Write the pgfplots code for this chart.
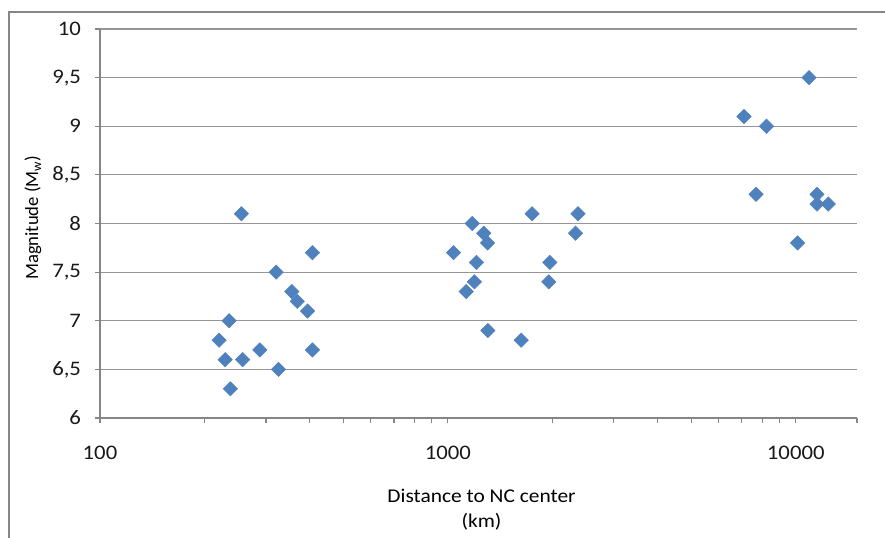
\documentclass[border=0pt]{standalone}
\usepackage{fontspec}
\setmainfont[FakeStretch=1.1]{Carlito}
\newfontfamily\plaincarlito{Carlito}
\usepackage{pgfplots}
\pgfplotsset{compat=1.18}
\definecolor{markblue}{RGB}{79,129,189}
\definecolor{axisgray}{RGB}{134,134,134}
\definecolor{gridgray}{RGB}{150,150,150}

\pgfplotstableread{
dist mag
255 8.1
408 7.7
321 7.5
356 7.3
369 7.2
395 7.1
235 7.0
220 6.8
229 6.6
257 6.6
288 6.7
408 6.7
326 6.5
237 6.3
1175 8.0
1746 8.1
2366 8.1
1268 7.9
1300 7.8
2328 7.9
1038 7.7
1208 7.6
1964 7.6
1192 7.4
1950 7.4
1129 7.3
1303 6.9
1625 6.8
10920 9.5
7100 9.1
8240 9.0
7690 8.3
11510 8.3
11510 8.2
12400 8.2
10120 7.8
}\quakes

\begin{document}
\begin{tikzpicture}[x=0.75pt, y=0.75pt, font=\fontsize{14.6pt}{18.75pt}\selectfont]
\useasboundingbox (-100,-120) rectangle (785,418);
\clip (-100,-120) rectangle (785,418);
% outer chart frame (cut off at right and bottom)
\draw[axisgray, line width=1.1pt] (-91,-200) rectangle (900,406);
\begin{axis}[
    at={(0,0)}, anchor=south west,
    scale only axis,
    width=567.75pt, height=291.75pt,
    xmode=log,
    xmin=100, xmax=15000,
    ymin=6, ymax=10,
    xtick={100,1000,10000},
    xticklabels={100,1000,10000},
    minor xtick={200,300,400,500,600,700,800,900,2000,3000,4000,5000,6000,7000,8000,9000},
    extra x ticks={15000},
    extra x tick labels={},
    ytick={6,6.5,...,10},
    /pgf/number format/.cd, use comma, fixed, assume math mode=true,
    /pgfplots/.cd,
    tick label style={font=\fontsize{15.5pt}{18.75pt}\selectfont, color=black!90},
    xticklabel style={yshift=-14pt},
    yticklabel style={xshift=-7pt},
    axis x line*=bottom,
    axis y line*=left,
    axis line style={axisgray, line width=0.8pt, -},
    tick align=outside,
    major tick length=3.75pt,
    minor tick length=3.75pt,
    tick style={axisgray, line width=0.8pt},
    ymajorgrids,
    grid style={gridgray, line width=0.8pt},
    xlabel={Distance to NC center\\(km)},
    xlabel style={align=center, at={(axis description cs:0.504,-0.171)}, anchor=north},
    ylabel={Magnitude (M\textsubscript{w})},
    ylabel style={at={(axis description cs:-0.0885,0.515)}, anchor=center,
        font=\plaincarlito\fontsize{14pt}{17pt}\selectfont},
]
\addplot[only marks, mark=square*, mark size=3.8pt,
    mark options={rotate=45, fill=markblue, draw=markblue}]
    table[x=dist, y=mag] {\quakes};
\end{axis}
\end{tikzpicture}
\end{document}
